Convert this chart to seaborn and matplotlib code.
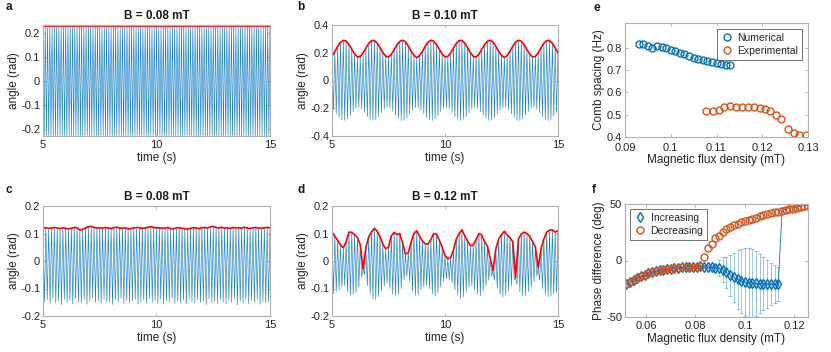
import numpy as np
import matplotlib
matplotlib.use("Agg")
import matplotlib.pyplot as plt
from matplotlib.lines import Line2D
import seaborn as sns

# ── Style ─────────────────────────────────────────────────────────────────────
sns.set_theme(style="ticks")
plt.rcParams.update({
    "font.family": ["Liberation Sans", "DejaVu Sans"],
    "axes.unicode_minus": False,
    "axes.edgecolor": "#b0b0b0",
    "axes.linewidth": 0.8,
    "axes.labelcolor": "#262626",
    "axes.labelsize": 8.5,
    "xtick.direction": "in",
    "ytick.direction": "in",
    "xtick.top": True,
    "ytick.right": True,
    "xtick.major.size": 2.5,
    "ytick.major.size": 2.5,
    "xtick.major.width": 0.6,
    "ytick.major.width": 0.6,
    "xtick.color": "#b0b0b0",
    "ytick.color": "#b0b0b0",
    "xtick.labelcolor": "#262626",
    "ytick.labelcolor": "#262626",
    "xtick.labelsize": 8,
    "ytick.labelsize": 8,
    "xtick.major.pad": 3,
    "ytick.major.pad": 2,
})

BLUE = "#0072BD"
ORANGE = "#D95319"
RED = "#ff0000"

# ── Data: time traces (peak / trough of each oscillation cycle) ───────────────
A_PEAK = 0.226
A_TROUGH = -0.226
A_CYCLES = 100

B_PEAKS = [0.175, 0.208, 0.245, 0.275, 0.289, 0.284, 0.261, 0.226, 0.192, 0.170,
           0.173, 0.198, 0.233, 0.267, 0.287, 0.288, 0.270, 0.237, 0.202, 0.175,
           0.168, 0.189, 0.222, 0.257, 0.282, 0.290, 0.278, 0.249, 0.212, 0.182,
           0.165, 0.180, 0.210, 0.246, 0.276, 0.290, 0.283, 0.259, 0.224, 0.191,
           0.170, 0.174, 0.199, 0.235, 0.268, 0.288, 0.288, 0.269, 0.236, 0.200,
           0.174, 0.169, 0.190, 0.223, 0.258, 0.283, 0.290, 0.277, 0.247, 0.211,
           0.181, 0.165, 0.181, 0.211, 0.247, 0.277, 0.290, 0.283, 0.258, 0.223,
           0.190, 0.169, 0.174, 0.200, 0.236, 0.269, 0.288, 0.288, 0.268, 0.235,
           0.199]
B_TROUGHS = [-0.211, -0.239, -0.266, -0.284, -0.287, -0.276, -0.253, -0.225, -0.203, -0.195,
             -0.206, -0.230, -0.258, -0.280, -0.288, -0.281, -0.261, -0.234, -0.209, -0.195,
             -0.201, -0.222, -0.250, -0.274, -0.287, -0.285, -0.269, -0.242, -0.216, -0.197,
             -0.196, -0.214, -0.240, -0.267, -0.284, -0.287, -0.275, -0.251, -0.224, -0.202,
             -0.196, -0.207, -0.232, -0.259, -0.280, -0.288, -0.281, -0.260, -0.232, -0.208,
             -0.195, -0.202, -0.223, -0.250, -0.274, -0.287, -0.285, -0.268, -0.241, -0.215,
             -0.196, -0.196, -0.215, -0.241, -0.268, -0.285, -0.287, -0.274, -0.250, -0.223,
             -0.202, -0.195, -0.208, -0.232, -0.260, -0.281, -0.288, -0.280, -0.259, -0.232]

C_PEAKS = [0.120, 0.121, 0.119, 0.120, 0.122, 0.120, 0.118, 0.121, 0.119, 0.117,
           0.119, 0.122, 0.121, 0.112, 0.115, 0.120, 0.125, 0.126, 0.122, 0.120,
           0.121, 0.119, 0.122, 0.120, 0.118, 0.121, 0.123, 0.120, 0.119, 0.121,
           0.116, 0.118, 0.120, 0.122, 0.121, 0.119, 0.120, 0.123, 0.125, 0.122,
           0.120, 0.121, 0.119, 0.120, 0.122, 0.118, 0.117, 0.120, 0.121, 0.119,
           0.117, 0.116, 0.119, 0.121, 0.120, 0.118, 0.121, 0.122, 0.120, 0.124,
           0.126, 0.122, 0.120, 0.123, 0.119, 0.121, 0.118, 0.122, 0.120, 0.121,
           0.119, 0.123, 0.120, 0.118, 0.121, 0.122, 0.120, 0.119, 0.121, 0.122,
           0.121]
C_TROUGHS = [-0.148, -0.141, -0.155, -0.136, -0.152, -0.145, -0.158, -0.139, -0.150, -0.143,
             -0.156, -0.137, -0.149, -0.153, -0.140, -0.157, -0.146, -0.135, -0.151, -0.144,
             -0.154, -0.138, -0.150, -0.147, -0.158, -0.141, -0.149, -0.136, -0.155, -0.143,
             -0.152, -0.145, -0.139, -0.157, -0.148, -0.142, -0.154, -0.137, -0.150, -0.146,
             -0.153, -0.140, -0.156, -0.144, -0.149, -0.138, -0.155, -0.147, -0.151, -0.142,
             -0.157, -0.139, -0.148, -0.153, -0.141, -0.150, -0.145, -0.158, -0.137, -0.152,
             -0.146, -0.154, -0.140, -0.149, -0.156, -0.143, -0.151, -0.138, -0.160, -0.147,
             -0.153, -0.141, -0.155, -0.144, -0.150, -0.139, -0.157, -0.146, -0.152, -0.148]

D_PEAKS = [0.105, 0.090, 0.075, 0.058, 0.048, 0.070, 0.105, 0.104, 0.096, 0.085,
           0.060, -0.030, 0.050, 0.088, 0.106, 0.119, 0.108, 0.088, 0.062, 0.045,
           0.050, 0.092, 0.104, 0.096, 0.100, 0.065, 0.025, 0.030, 0.068, 0.100,
           0.110, 0.090, 0.073, 0.062, 0.062, 0.078, 0.100, 0.098, 0.075, 0.050,
           0.020, 0.008, 0.012, 0.040, 0.080, 0.100, 0.113, 0.092, 0.072, 0.056,
           0.058, 0.078, 0.100, 0.095, 0.070, 0.055, 0.010, -0.035, 0.045, 0.080,
           0.096, 0.108, 0.095, 0.085, 0.070, -0.060, 0.080, 0.098, 0.105, 0.100,
           0.090, 0.070, 0.050, -0.025, 0.045, 0.080, 0.105, 0.112, 0.113, 0.105,
           0.110]
D_TROUGHS = [-0.120, -0.110, -0.105, -0.095, -0.090, -0.110, -0.125, -0.122, -0.115, -0.095,
             -0.060, -0.050, -0.090, -0.120, -0.138, -0.140, -0.130, -0.110, -0.090, -0.080,
             -0.100, -0.122, -0.125, -0.120, -0.100, -0.070, -0.055, -0.075, -0.110, -0.125,
             -0.122, -0.105, -0.095, -0.090, -0.100, -0.120, -0.128, -0.115, -0.095, -0.075,
             -0.065, -0.068, -0.080, -0.105, -0.125, -0.136, -0.130, -0.112, -0.095, -0.090,
             -0.105, -0.122, -0.127, -0.110, -0.090, -0.070, -0.055, -0.070, -0.100, -0.122,
             -0.130, -0.125, -0.110, -0.090, -0.068, -0.085, -0.112, -0.127, -0.125, -0.110,
             -0.095, -0.075, -0.055, -0.070, -0.100, -0.122, -0.130, -0.128, -0.120, -0.115]

# ── Data: comb spacing (panel e) ──────────────────────────────────────────────
NUM_B = [0.093, 0.094, 0.095, 0.096, 0.097, 0.098, 0.099, 0.100, 0.101, 0.102, 0.103,
         0.104, 0.105, 0.106, 0.107, 0.108, 0.109, 0.110, 0.111, 0.112, 0.113]
NUM_SPACING = [0.815, 0.817, 0.805, 0.797, 0.807, 0.803, 0.797, 0.790, 0.785, 0.777, 0.770,
               0.763, 0.754, 0.750, 0.746, 0.740, 0.734, 0.731, 0.725, 0.720, 0.722]
EXP_B = [0.1077, 0.1092, 0.1105, 0.1117, 0.1130, 0.1143, 0.1156, 0.1169, 0.1182,
         0.1194, 0.1206, 0.1217, 0.1230, 0.1242, 0.1257, 0.1269, 0.1281, 0.1295]
EXP_SPACING = [0.515, 0.518, 0.523, 0.535, 0.537, 0.535, 0.535, 0.535, 0.532,
               0.529, 0.526, 0.518, 0.499, 0.482, 0.434, 0.420, 0.411, 0.410]

# ── Data: phase difference (panel f) ──────────────────────────────────────────
PHASE_B = [0.0520, 0.0535, 0.0550, 0.0565, 0.0580, 0.0595, 0.0610, 0.0625, 0.0640, 0.0655,
           0.0670, 0.0685, 0.0700, 0.0715, 0.0730, 0.0745, 0.0760, 0.0775, 0.0790, 0.0805,
           0.0820, 0.0835, 0.0850, 0.0865, 0.0880, 0.0895, 0.0910, 0.0925, 0.0940, 0.0955,
           0.0970, 0.0985, 0.1000, 0.1015, 0.1030, 0.1045, 0.1060, 0.1075, 0.1090, 0.1105,
           0.1120, 0.1135, 0.1150, 0.1165, 0.1180, 0.1195, 0.1210, 0.1225, 0.1240, 0.1255]
INC_PHASE = [-21, -19, -17, -15.5, -14, -12.5, -11.5, -10.5, -9.5, -8.8,
             -8.2, -7.6, -7.1, -6.7, -6.3, -6.0, -5.8, -5.6, -5.5, -5.4,
             -5.3, -5.5, -5.8, -6.0, -6.3, -6.8, -8.0, -10.5, -13, -15,
             -16.8, -18, -19, -19.6, -20, -20.3, -20.5, -20.6, -20.7, -20.8,
             -20.8, -21, 44.5, 45.2, 46, 46.7, 47.3, 48, 48.5, 49]
INC_ERR = [1.5, 1.5, 1.5, 1.5, 1.5, 1.5, 1.5, 1.5, 1.5, 1.5,
           1.5, 1.5, 1.5, 1.5, 1.5, 1.5, 1.5, 1.5, 1.5, 1.5,
           1.5, 1.5, 2, 2, 2.5, 7, 11, 14, 18, 22,
           26, 28.5, 30, 30.5, 30, 28.5, 26, 23.5, 21, 19,
           17, 15, 3, 3, 3, 3, 3, 3, 3, 3]
INC_LAST_MARKER_B = 0.1135
DEC_PHASE = [-21, -19, -17, -15.5, -14, -12.5, -11.5, -10.5, -9.5, -8.8,
             -8.2, -7.6, -7.1, -6.7, -6.3, -6.0, -5.8, -5.6, -5.5, -5.4,
             -5.3, 3, 11, 15, 19.5, 22, 25, 27.5, 29.5, 31,
             32.5, 34, 35, 36, 37, 38, 39, 40, 41, 41.8,
             42.5, 43.2, 44, 44.6, 45.3, 46, 46.6, 47.2, 47.8, 48.5]


# ── Helpers ───────────────────────────────────────────────────────────────────

def _trace(peaks, troughs):
    """Zig-zag through alternating peak / trough values, evenly spread 5-15 s."""
    y = np.empty(len(peaks) + len(troughs))
    y[0::2] = peaks
    y[1::2] = troughs
    t = np.linspace(5, 15, len(y))
    return t, y


def _time_panel(ax, peaks, troughs, title, ylim, yticks):
    t, y = _trace(peaks, troughs)
    sns.lineplot(x=t, y=y, ax=ax, color=BLUE, linewidth=0.45, alpha=0.9,
                 estimator=None, sort=False, legend=False)
    sns.lineplot(x=t[0::2], y=np.asarray(peaks), ax=ax, color=RED, linewidth=1.2,
                 estimator=None, sort=False, legend=False)
    ax.set_xlim(5, 15)
    ax.set_ylim(*ylim)
    ax.set_xticks([5, 10, 15])
    ax.set_yticks(yticks)
    ax.set_yticklabels([f"{v:g}" for v in yticks])
    ax.set_title(title, fontsize=8.5, fontweight="bold", pad=4, color="#1a1a1a")
    ax.set_xlabel("time (s)", labelpad=1)
    ax.set_ylabel("angle (rad)", labelpad=1)


# ── Figure ────────────────────────────────────────────────────────────────────
fig = plt.figure(figsize=(8.31, 3.52), dpi=100)
W, H = 831, 352


def _axes(left, top, right, bottom):
    return fig.add_axes([left / W, 1 - bottom / H, (right - left) / W, (bottom - top) / H])


ax_a = _axes(43, 25, 270, 136)
ax_b = _axes(332, 25, 558, 136)
ax_c = _axes(43, 206, 270, 316)
ax_d = _axes(332, 206, 558, 316)
ax_e = _axes(625, 23, 808, 137)
ax_f = _axes(625, 204, 808, 317)

_time_panel(ax_a, np.full(A_CYCLES + 1, A_PEAK), np.full(A_CYCLES, A_TROUGH),
            "B = 0.08 mT", (-0.228, 0.232), [-0.2, -0.1, 0, 0.1, 0.2])
_time_panel(ax_b, B_PEAKS, B_TROUGHS, "B = 0.10 mT", (-0.4, 0.4),
            [-0.4, -0.2, 0, 0.2, 0.4])
_time_panel(ax_c, C_PEAKS, C_TROUGHS, "B = 0.08 mT", (-0.2, 0.2),
            [-0.2, -0.1, 0, 0.1, 0.2])
_time_panel(ax_d, D_PEAKS, D_TROUGHS, "B = 0.12 mT", (-0.2, 0.2),
            [-0.2, -0.1, 0, 0.1, 0.2])

# e – comb spacing
marker_kw = dict(linestyle="none", markerfacecolor="none", markersize=5, markeredgewidth=1.0)
ax_e.plot(NUM_B, NUM_SPACING, marker="o", markeredgecolor=BLUE, label="Numerical", **marker_kw)
ax_e.plot(EXP_B, EXP_SPACING, marker="o", markeredgecolor=ORANGE, label="Experimental", **marker_kw)
ax_e.set_xlim(0.09, 0.13)
ax_e.set_ylim(0.4, 0.91)
ax_e.set_xticks([0.09, 0.1, 0.11, 0.12, 0.13])
ax_e.set_xticklabels(["0.09", "0.1", "0.11", "0.12", "0.13"])
ax_e.set_yticks([0.4, 0.5, 0.6, 0.7, 0.8])
ax_e.set_yticklabels(["0.4", "0.5", "0.6", "0.7", "0.8"])
ax_e.tick_params(axis="x", pad=4)
ax_e.set_xlabel("Magnetic flux density (mT)", labelpad=1)
ax_e.set_ylabel("Comb spacing (Hz)", labelpad=1)
leg_e = ax_e.legend(loc="upper right", fontsize=7.5, frameon=True, fancybox=False,
                    handletextpad=0.4, handlelength=1.2, borderpad=0.35,
                    labelspacing=0.3, borderaxespad=0.6)
leg_e.get_frame().set_edgecolor("#333333")
leg_e.get_frame().set_linewidth(0.6)

# f – phase difference
phase_b = np.asarray(PHASE_B)
inc = np.asarray(INC_PHASE)
ax_f.errorbar(phase_b, inc, yerr=INC_ERR, fmt="none", ecolor=BLUE,
              elinewidth=0.6, capsize=1.5, capthick=0.6, alpha=0.45)
ax_f.plot(phase_b, inc, color=BLUE, linewidth=0.6)
mask = phase_b <= INC_LAST_MARKER_B
ax_f.plot(phase_b[mask], inc[mask], marker="d", markeredgecolor=BLUE, **marker_kw)
ax_f.plot(phase_b, DEC_PHASE, marker="o", markeredgecolor=ORANGE, **marker_kw)
ax_f.set_xlim(0.0515, 0.1255)
ax_f.set_ylim(-50, 50)
ax_f.set_xticks([0.06, 0.08, 0.1, 0.12])
ax_f.set_xticklabels(["0.06", "0.08", "0.1", "0.12"])
ax_f.set_yticks([-50, 0, 50])
ax_f.set_xlabel("Magnetic flux density (mT)", labelpad=1)
ax_f.set_ylabel("Phase difference (deg)", labelpad=1)
handles = [
    Line2D([], [], marker="d", color=BLUE, label="Increasing", **marker_kw),
    Line2D([], [], marker="o", color=ORANGE, label="Decreasing", **marker_kw),
]
leg_f = ax_f.legend(handles=handles, loc="upper left", fontsize=7.5, frameon=True,
                    fancybox=False, handletextpad=0.4, handlelength=1.2,
                    borderpad=0.35, labelspacing=0.3, borderaxespad=0.5)
leg_f.get_frame().set_edgecolor("#333333")
leg_f.get_frame().set_linewidth(0.6)

# panel letters
for letter, x, y in [("a", 6, 7), ("b", 297, 7), ("c", 6, 190),
                     ("d", 297, 190), ("e", 593, 8), ("f", 592, 190)]:
    fig.text(x / W, 1 - y / H, letter, fontsize=8.5, fontweight="bold",
             va="center", ha="left", color="#1a1a1a")

fig.savefig("out.png", dpi=100)
